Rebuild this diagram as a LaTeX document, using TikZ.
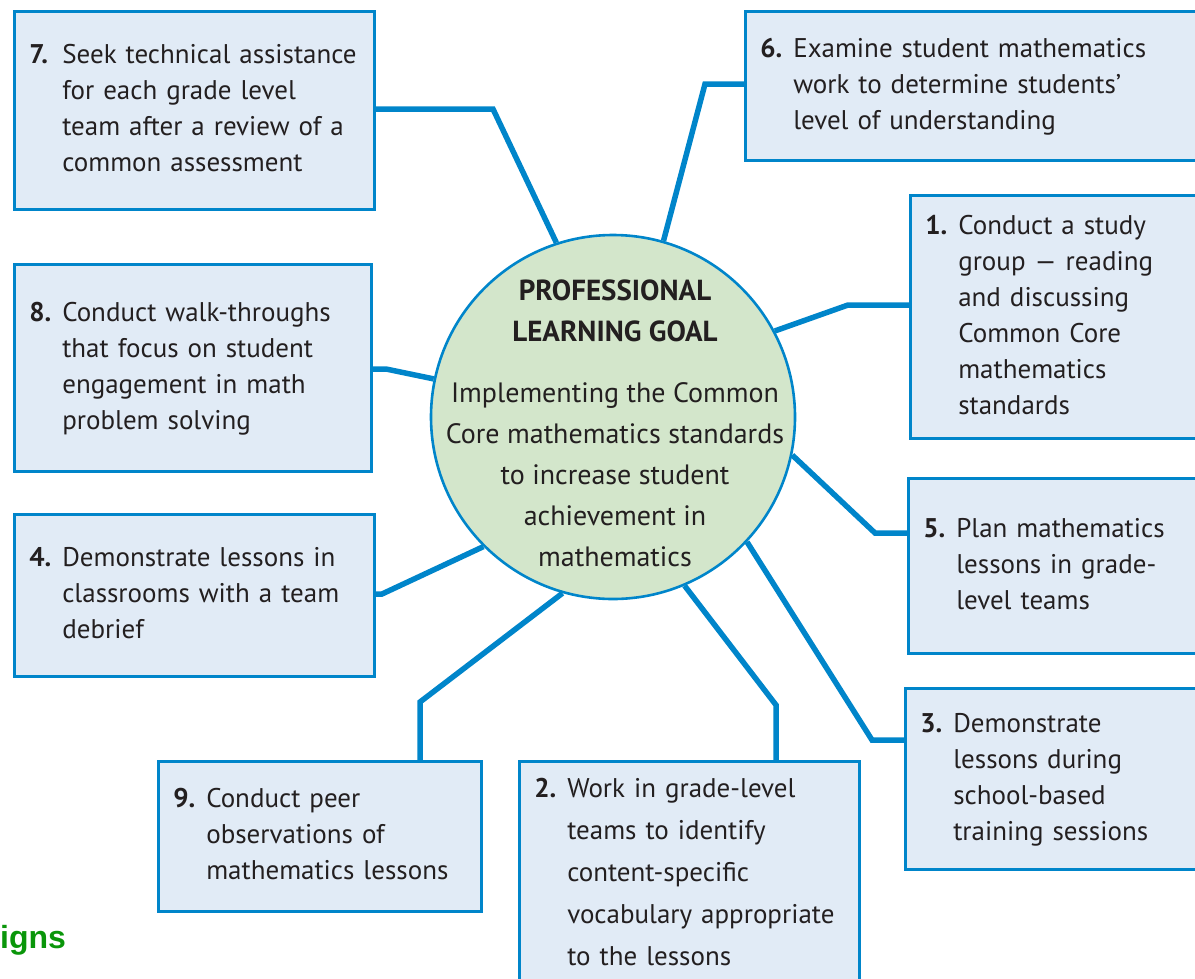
\documentclass[tikz,border=0pt]{standalone}
\usepackage{fontspec}
\setmainfont{PT Sans}
\newfontfamily\signfont{Liberation Sans}
\usepackage{array}
\usepackage{xcolor}
\usetikzlibrary{positioning}
\definecolor{goalblue}{HTML}{0085CA}
\definecolor{boxfill}{HTML}{E1EBF6}
\definecolor{goalgreen}{HTML}{D3E6CB}
\definecolor{inkgray}{HTML}{231F20}
\definecolor{signgreen}{HTML}{0A960A}
\tikzset{%
    goalbox/.style={%
        draw=goalblue, line width=2.6pt, fill=boxfill, anchor=north west,
        inner xsep=15pt, inner ysep=0pt, text=inkgray,
        font=\fontsize{27}{36}\selectfont},
    link/.style={draw=goalblue, line width=5.5pt}
}
\newcommand{\stepitem}[2]{%
    \begin{tabular}[c]{@{}p{33pt}@{}l@{}}\textbf{#1} &
    \begin{tabular}[t]{@{}l@{}}#2\end{tabular}\end{tabular}}

\begin{document}
\begin{tikzpicture}[x=1pt,y=-1pt]
	\useasboundingbox (0,0) rectangle (1195,978);
	\clip (0,0) rectangle (1195,978);

	\node[circle,draw=goalblue,line width=2.6pt,fill=goalgreen,minimum size=364pt,inner sep=0pt] (goal) at (613,417) {};
	\node[text=inkgray,align=center,font=\fontsize{28}{41}\selectfont] (goaltext) at (615,423)
		{{\fontsize{29}{41}\selectfont\bfseries PROFESSIONAL}\\{\fontsize{29}{41}\selectfont\bfseries LEARNING GOAL}\\[20pt]Implementing the Common\\Core mathematics standards\\to increase student\\achievement in\\mathematics};

	\node[goalbox,text width=330pt,minimum height=198pt] (s7) at (13,10)
		{\stepitem{7.}{Seek technical assistance\\for each grade level\\team after a review of a\\common assessment}};
	\node[goalbox,text width=441pt,minimum height=149pt] (s6) at (744,10)
		{\stepitem{6.}{Examine student mathematics\\work to determine students’\\level of understanding}};
	\node[goalbox,text width=280pt,minimum height=243pt] (s1) at (909,194)
		{\stepitem{1.}{Conduct a study\\group — reading\\and discussing\\Common Core\\mathematics\\standards}};
	\node[goalbox,text width=327pt,minimum height=207pt] (s8) at (13,263)
		{\stepitem{8.}{Conduct walk-throughs\\that focus on student\\engagement in math\\problem solving}};
	\node[goalbox,text width=280pt,minimum height=175pt] (s5) at (907,477)
		{\stepitem{5.}{Plan mathematics\\lessons in grade-\\level teams}};
	\node[goalbox,text width=330pt,minimum height=162pt] (s4) at (13,513)
		{\stepitem{4.}{Demonstrate lessons in\\classrooms with a team\\debrief}};
	\node[goalbox,text width=285pt,minimum height=181pt] (s3) at (904,687)
		{\stepitem{3.}{Demonstrate\\lessons during\\school-based\\training sessions}};
	\node[goalbox,text width=293pt,minimum height=150pt] (s9) at (157,760)
		{\stepitem{9.}{Conduct peer\\observations of\\mathematics lessons}};
	\node[goalbox,text width=310pt,minimum height=224pt,font=\fontsize{27}{42}\selectfont] (s2) at (518,760)
		{\stepitem{2.}{Work in grade-level\\teams to identify\\content-specific\\vocabulary appropriate\\to the lessons}};

	\node[anchor=west,inner sep=0pt,text=signgreen,font=\signfont\bfseries\fontsize{32}{36}\selectfont] (signs) at (0,940) {igns};

	% connectors: circle -- bend -- box
	\coordinate (b7) at (493,109);
	\coordinate (b6) at (705,84);
	\coordinate (b1) at (848,305);
	\coordinate (b8) at (386,369);
	\coordinate (b5) at (875,533);
	\coordinate (b4) at (382,594);
	\coordinate (b3) at (872,740);
	\coordinate (b9) at (420,702);
	\coordinate (b2) at (776,705);

	\draw[link] (goal.108) -- (b7) -- (b7 -| s7.east);
	\draw[link] (goal.74) -- (b6) -- (b6 -| s6.west);
	\draw[link] (goal.28) -- (b1) -- (b1 -| s1.west);
	\draw[link] (goal.168) -- (b8) -- (b8 -| s8.east);
	\draw[link] (goal.-12) -- (b5) -- (b5 -| s5.west);
	\draw[link] (goal.225) -- (b4) -- (b4 -| s4.east);
	\draw[link] (goal.-43) -- (b3) -- (b3 -| s3.west);
	\draw[link] (goal.254) -- (b9) -- (b9 |- s9.north);
	\draw[link] (goal.-67) -- (b2) -- (b2 |- s2.north);
\end{tikzpicture}
\end{document}
